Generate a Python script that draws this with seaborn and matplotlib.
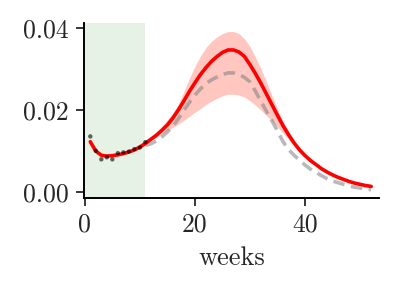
import numpy as np
import pandas as pd
import matplotlib
matplotlib.use("Agg")
import matplotlib.pyplot as plt
import seaborn as sns

# observed points (weeks 1..11)
obs_weeks = [1, 2, 3, 4, 5, 6, 7, 8, 9, 10, 11]
obs_vals = [0.0135, 0.0100, 0.0079, 0.0084, 0.0079, 0.0094, 0.0096, 0.0098, 0.0104, 0.0108, 0.0121]

# model fit (red), weeks 1..52
fit_weeks = list(range(1, 53))
fit_vals = [0.0122, 0.0099, 0.0089, 0.0087, 0.0088, 0.0090, 0.0093, 0.0097, 0.0102, 0.0109,
            0.0118, 0.0128, 0.0138, 0.0150, 0.0163, 0.0180, 0.0200, 0.0222, 0.0245, 0.0266,
            0.0286, 0.0303, 0.0318, 0.0330, 0.0340, 0.0346, 0.0346, 0.0341, 0.0330, 0.0310,
            0.0288, 0.0264, 0.0238, 0.0212, 0.0186, 0.0161, 0.0139, 0.0119, 0.0102, 0.0088,
            0.0076, 0.0066, 0.0056, 0.0048, 0.0041, 0.0035, 0.0030, 0.0025, 0.0021, 0.0018,
            0.0015, 0.0013]

# reference (gray dashed) and band, weeks 11..52
ref_weeks = list(range(11, 53))
ref_vals = [0.0113, 0.0117, 0.0124, 0.0134, 0.0146, 0.0160, 0.0178, 0.0199, 0.0218, 0.0236,
            0.0251, 0.0264, 0.0273, 0.0280, 0.0286, 0.0290, 0.0290, 0.0286, 0.0279, 0.0268,
            0.0245, 0.0220, 0.0196, 0.0173, 0.0148, 0.0122, 0.0103, 0.0089, 0.0077, 0.0065,
            0.0055, 0.0047, 0.0039, 0.0032, 0.0026, 0.0022, 0.0018, 0.0014, 0.0011, 0.0009,
            0.0007, 0.0005]
band_upper = [0.0118, 0.0131, 0.0144, 0.0160, 0.0176, 0.0192, 0.0213, 0.0245, 0.0277, 0.0306,
              0.0331, 0.0352, 0.0367, 0.0378, 0.0386, 0.0391, 0.0391, 0.0386, 0.0373, 0.0354,
              0.0328, 0.0300, 0.0268, 0.0234, 0.0201, 0.0172, 0.0147, 0.0125, 0.0107, 0.0092,
              0.0079, 0.0068, 0.0058, 0.0050, 0.0042, 0.0036, 0.0031, 0.0026, 0.0022, 0.0019,
              0.0016, 0.0014]
band_lower = [0.0116, 0.0125, 0.0133, 0.0141, 0.0149, 0.0157, 0.0165, 0.0174, 0.0184, 0.0194,
              0.0203, 0.0213, 0.0221, 0.0228, 0.0234, 0.0238, 0.0238, 0.0236, 0.0231, 0.0222,
              0.0211, 0.0199, 0.0186, 0.0172, 0.0158, 0.0143, 0.0128, 0.0113, 0.0097, 0.0084,
              0.0073, 0.0064, 0.0054, 0.0046, 0.0040, 0.0034, 0.0029, 0.0024, 0.0020, 0.0017,
              0.0014, 0.0012]

train_span = [0, 11]
xticks = [0, 20, 40]
yticks = [0.0, 0.02, 0.04]
ytick_labels = ["0.00", "0.02", "0.04"]

sns.set_theme(style="ticks")
plt.rcParams["font.family"] = ["cmr10", "DejaVu Serif"]
plt.rcParams["axes.formatter.use_mathtext"] = True
plt.rcParams["mathtext.fontset"] = "cm"

fig = plt.figure(figsize=(3.98, 2.94), dpi=100)
ax = fig.add_axes([0.211, 0.327, 0.741, 0.595])

ax.axvspan(train_span[0], train_span[1], color="green", alpha=0.1, lw=0, zorder=0)
ax.fill_between(ref_weeks, band_lower, band_upper, color="#ff2200", alpha=0.25, lw=0, zorder=1)

ref_df = pd.DataFrame({"week": ref_weeks, "val": ref_vals})
fit_df = pd.DataFrame({"week": fit_weeks, "val": fit_vals})
obs_df = pd.DataFrame({"week": obs_weeks, "val": obs_vals})

sns.lineplot(data=ref_df, x="week", y="val", ax=ax, color="gray", alpha=0.55, lw=2.6,
             dashes=False, zorder=2)
ax.lines[-1].set_dashes([3.2, 1.8])
sns.lineplot(data=fit_df, x="week", y="val", ax=ax, color="red", lw=2.6, zorder=3)
sns.scatterplot(data=obs_df, x="week", y="val", ax=ax, color="black", alpha=0.6, s=10,
                edgecolor="none", zorder=4)

ax.set_xlim(-0.15, 53.4)
ax.set_ylim(-0.0015, 0.0412)
ax.set_xticks(xticks)
ax.set_xticklabels([str(t) for t in xticks])
ax.set_yticks(yticks)
ax.set_yticklabels(ytick_labels)
ax.set_xlabel("weeks", fontsize=19, labelpad=7)
ax.set_ylabel("")
ax.tick_params(labelsize=18.5, length=6, width=1.3, pad=5)
for s in ["left", "bottom"]:
    ax.spines[s].set_linewidth(1.4)
    ax.spines[s].set_color("black")
sns.despine(ax=ax)

fig.savefig("out.png", dpi=100)
